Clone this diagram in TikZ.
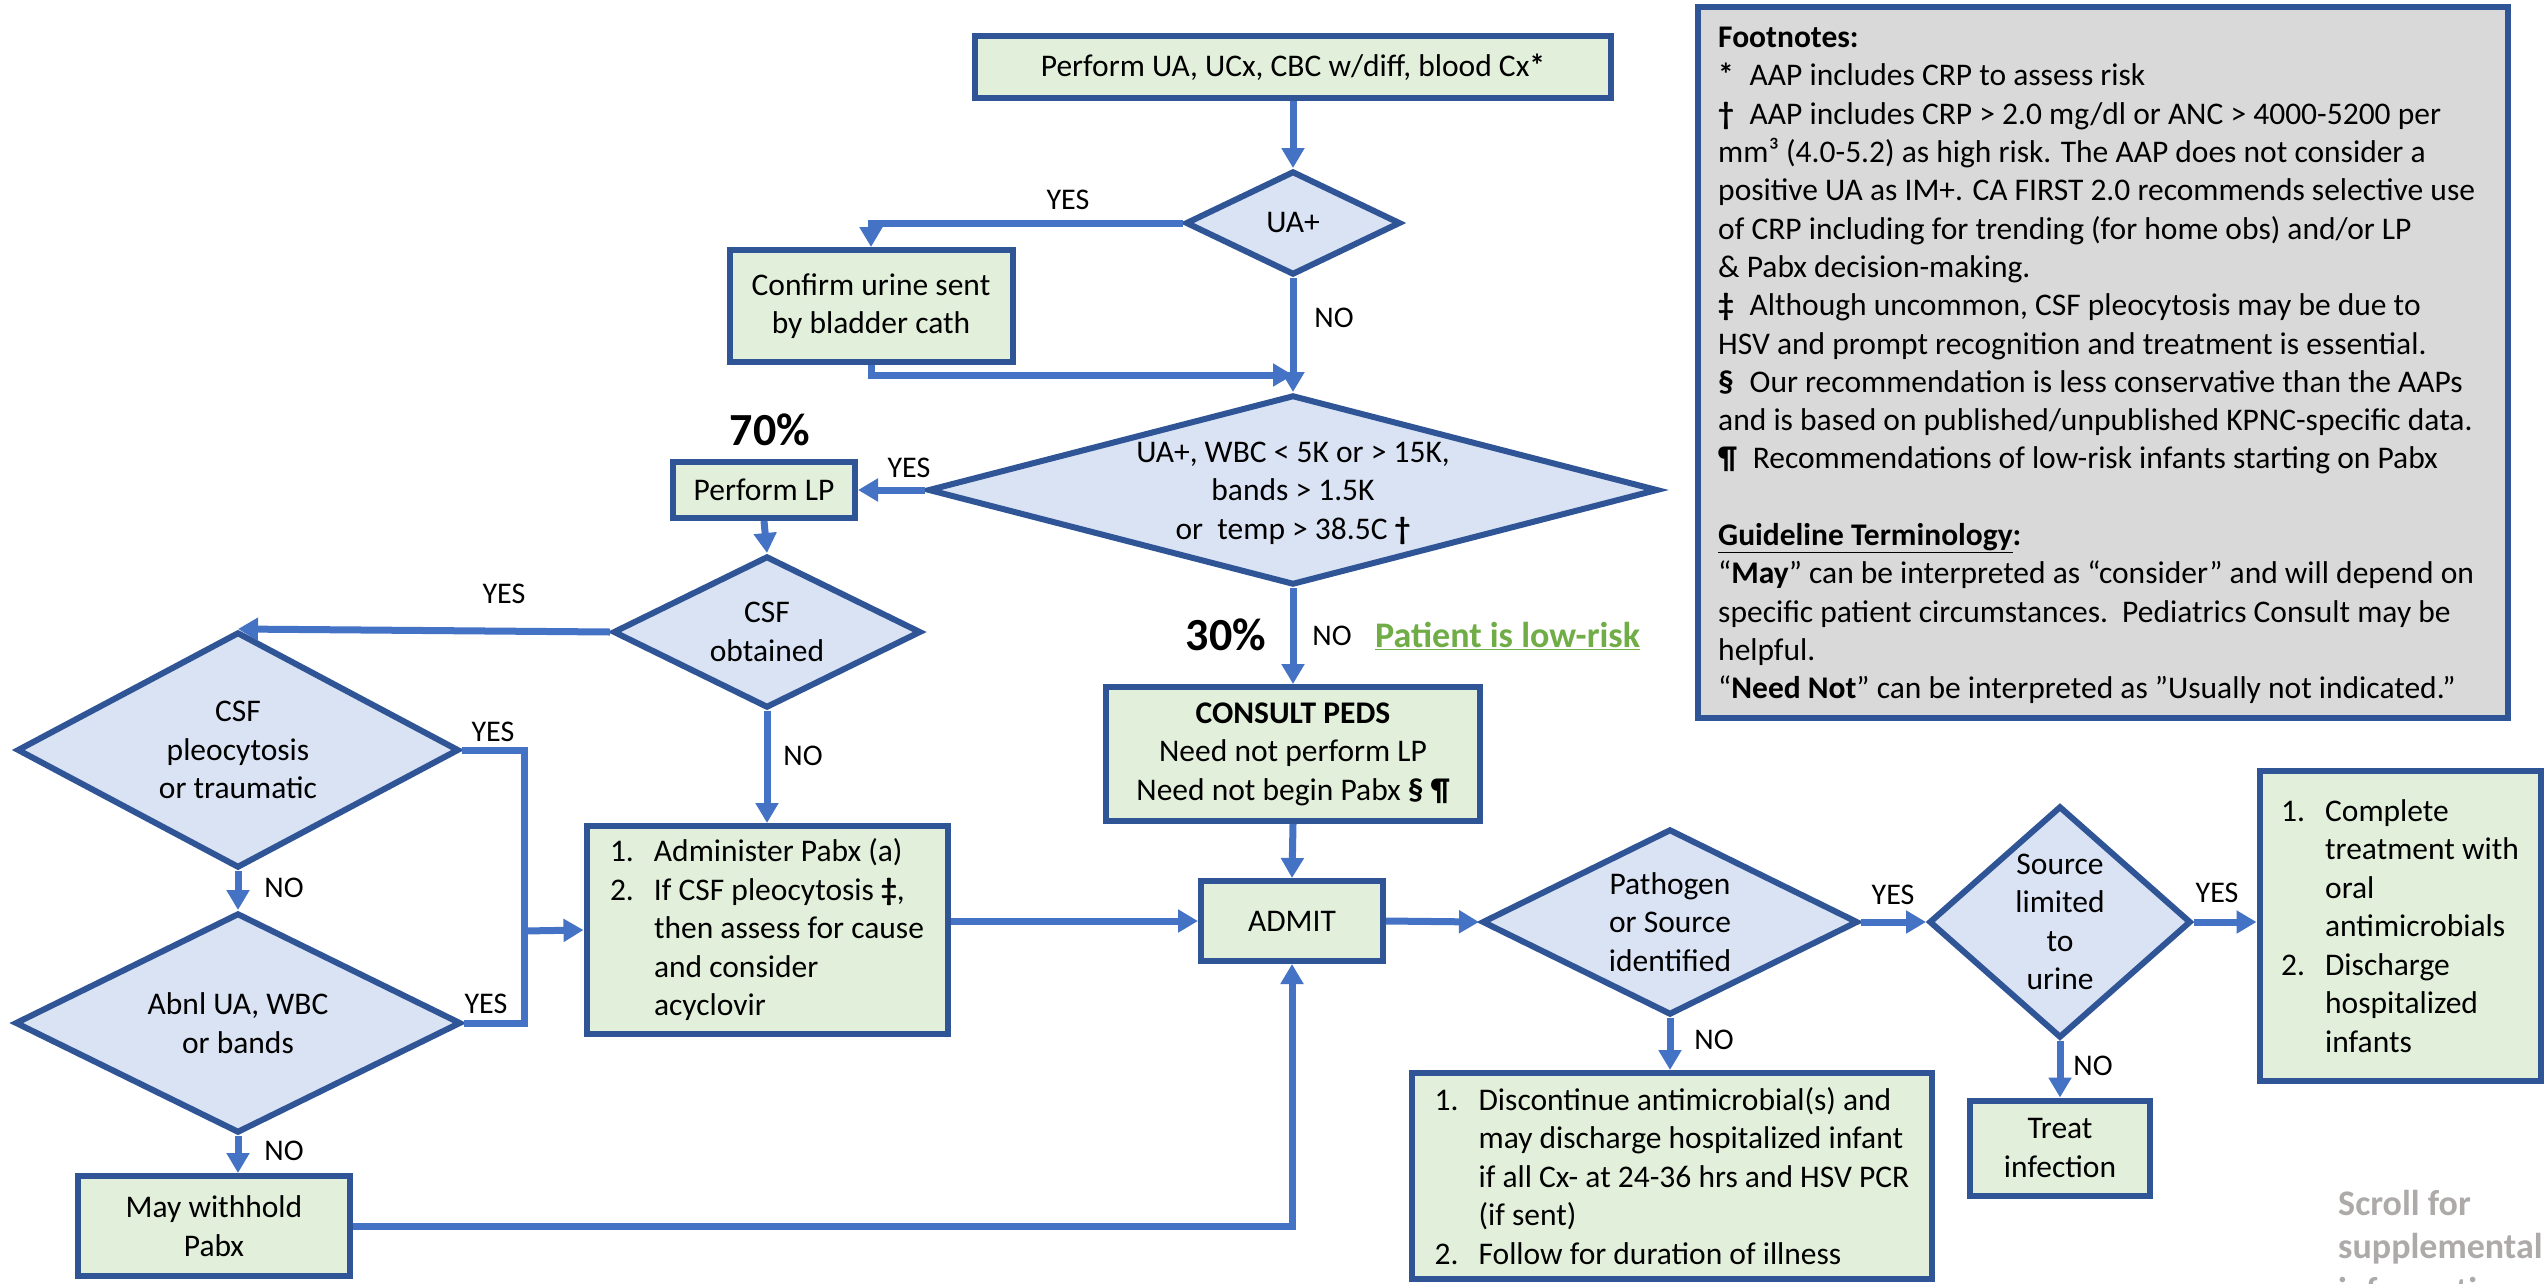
\documentclass[tikz,border=0pt]{standalone}
\usepackage{fontspec}
\setmainfont{Carlito}
\usetikzlibrary{arrows.meta,shapes.geometric}

\definecolor{edgeblue}{HTML}{2F5597}
\definecolor{flowblue}{HTML}{4472C4}
\definecolor{boxgreen}{HTML}{E2EFDA}
\definecolor{diablue}{HTML}{DAE3F3}
\definecolor{notegray}{HTML}{D9D9D9}
\definecolor{riskgreen}{HTML}{70AD47}
\definecolor{hintgray}{HTML}{AEAAAA}

% hanging number for list-style boxes
\newcommand\itm[1]{\makebox[44pt][l]{#1}}

\tikzset{
  txt/.style={font=\fontsize{31.5}{38.5}\selectfont, align=center, inner sep=0pt},
  stepbox/.style={txt, rectangle, draw=edgeblue, fill=boxgreen, line width=6pt},
  listbox/.style={stepbox, align=left},
  dia/.style={diamond, draw=edgeblue, fill=diablue, line width=6pt, inner sep=0pt},
  lbl/.style={font=\fontsize{30}{36}\selectfont, inner sep=0pt},
  pct/.style={font=\fontsize{46}{50}\selectfont\bfseries, inner sep=0pt},
  conn/.style={draw=flowblue, line width=7pt},
  arr/.style={conn, -{Triangle[length=20pt,width=22pt]}},
}

\begin{document}
\begin{tikzpicture}[x=1pt,y=-1pt]
\useasboundingbox (0,0) rectangle (2544,1283);
\clip (0,0) rectangle (2544,1283);
\fill[white] (0,0) rectangle (2544,1283);

% ---------- footnotes panel ----------
\node[draw=edgeblue, fill=notegray, line width=6pt, minimum width=810pt, minimum height=711pt, inner sep=0pt] (notes) at (2103,362.5) {};
\node[anchor=north west, align=left, inner sep=0pt, font=\fontsize{31.5}{38.3}\selectfont] (notes-t) at (1718,27) {%
\textbf{Footnotes:}\\
\textbf{*}\enspace AAP includes CRP to assess risk\\
\textbf{†}\enspace AAP includes CRP > 2.0 mg/dl or ANC > 4000-5200 per\\
mm³ (4.0-5.2) as high risk. The AAP does not consider a\\
positive UA as IM+. CA FIRST 2.0 recommends selective use\\
of CRP including for trending (for home obs) and/or LP\\
\& Pabx decision-making.\\
\textbf{‡}\enspace Although uncommon, CSF pleocytosis may be due to\\
HSV and prompt recognition and treatment is essential.\\
\textbf{§}\enspace Our recommendation is less conservative than the AAPs\\
and is based on published/unpublished KPNC-specific data.\\
\textbf{¶}\enspace Recommendations of low-risk infants starting on Pabx\\[38.3pt]
\underline{\textbf{Guideline Terminology}}\textbf{:}\\
“\textbf{May}” can be interpreted as “consider” and will depend on\\
specific patient circumstances.\ \ Pediatrics Consult may be\\
helpful.\\
“\textbf{Need Not}” can be interpreted as ”Usually not indicated.”};

% ---------- flow nodes ----------
\node[stepbox, minimum width=636pt, minimum height=62pt] (top) at (1293,67) {Perform UA, UCx, CBC w/diff, blood Cx\textbf{*}};

\node[dia, minimum width=215pt, minimum height=104pt] (uap) at (1293,223) {};
\node[txt] (uap-t) at (uap) {UA+};

\node[stepbox, minimum width=283pt, minimum height=112pt] (confirm) at (871,306) {Confirm urine sent\\by bladder cath};

\node[dia, minimum width=730pt, minimum height=190pt] (risk) at (1293,490) {};
\node[txt] (risk-t) at (1293,493) {UA+, WBC < 5K or > 15K,\\bands > 1.5K\\or\ \ temp > 38.5C \textbf{†}};

\node[stepbox, minimum width=182pt, minimum height=56pt] (lp) at (764,490) {Perform LP};
\node[pct] (p70) at (770,430) {70\%};

\node[dia, minimum width=308pt, minimum height=152pt] (csfob) at (767,632) {};
\node[txt] (csfob-t) at (csfob) {CSF\\obtained};

\node[dia, minimum width=442pt, minimum height=236pt] (pleo) at (238,750) {};
\node[txt] (pleo-t) at (pleo) {CSF\\pleocytosis\\or traumatic};

\node[dia, minimum width=446pt, minimum height=220pt] (abnl) at (238,1023) {};
\node[txt] (abnl-t) at (abnl) {Abnl UA, WBC\\or bands};

\node[stepbox, minimum width=272pt, minimum height=100pt] (withhold) at (214,1226) {May withhold\\Pabx};

\node[listbox, minimum width=361pt, minimum height=208pt] (admin) at (767,930) {%
\itm{1.}Administer Pabx (a)\\
\itm{2.}If CSF pleocytosis \textbf{‡},\\
\itm{}then assess for cause\\
\itm{}and consider\\
\itm{}acyclovir};

\node[stepbox, minimum width=374pt, minimum height=134pt] (consult) at (1293,754) {\textbf{CONSULT PEDS}\\Need not perform LP\\Need not begin Pabx \textbf{§ ¶}};
\node[pct] (p30) at (1226,635) {30\%};
\node[anchor=west, inner sep=0pt, font=\fontsize{36}{40}\selectfont\bfseries, text=riskgreen] (lowrisk) at (1375,636) {\underline{Patient is low-risk}};

\node[stepbox, minimum width=182pt, minimum height=80pt] (admit) at (1292,921) {ADMIT};

\node[dia, minimum width=376pt, minimum height=186pt] (path) at (1670,922) {};
\node[txt] (path-t) at (path) {Pathogen\\or Source\\identified};

\node[dia, minimum width=262pt, minimum height=232pt] (src) at (2060,922) {};
\node[txt] (src-t) at (src) {Source\\limited\\to\\urine};

\node[listbox, minimum width=281pt, minimum height=310pt] (complete) at (2400,926) {%
\itm{1.}Complete\\
\itm{}treatment with\\
\itm{}oral\\
\itm{}antimicrobials\\
\itm{2.}Discharge\\
\itm{}hospitalized\\
\itm{}infants};

\node[listbox, minimum width=520pt, minimum height=206pt] (disc) at (1672,1176) {%
\itm{1.}Discontinue antimicrobial(s) and\\
\itm{}may discharge hospitalized infant\\
\itm{}if all Cx- at 24-36 hrs and HSV PCR\\
\itm{}(if sent)\\
\itm{2.}Follow for duration of illness};

\node[stepbox, minimum width=180pt, minimum height=95pt] (treat) at (2060,1148) {Treat\\infection};

\node[anchor=north west, align=left, inner sep=0pt, font=\fontsize{36}{43.5}\selectfont\bfseries, text=hintgray] (scroll) at (2338,1190) {Scroll for\\supplemental\\information};

% ---------- connectors ----------
\coordinate (merge) at (1293,375);
\coordinate (join) at (524,931);

\draw[arr] (top) -- (uap);
\draw[arr] (uap.west) -| (confirm.north);
\draw[arr] (uap.south) -- (risk.north);
\draw[arr] (confirm.south) |- (merge);
\draw[arr] (risk.west) -- (lp.east);
\draw[arr] (lp.south) -- (csfob.north);
\draw[arr] (csfob.west) -- (pleo.north);
\draw[arr] (csfob.south) -- (admin.north);
\draw[arr] (pleo.south) -- (abnl.north);
\draw[arr] (abnl.south) -- (abnl.south |- withhold.north);
\draw[conn] (pleo.east) -| (join) |- (abnl.east);
\draw[arr] (join) -- (admin.west);
\draw[arr] (admin.east |- admit.west) -- (admit.west);
\draw[arr] (withhold.east) -| (admit.south);
\draw[arr] (risk.south) -- (consult.north);
\draw[arr] (consult.south) -- (admit.north);
\draw[arr] (admit.east) -- (path.west);
\draw[arr] (path.east) -- (src.west);
\draw[arr] (src.east) -- (src.east -| complete.west);
\draw[arr] (path.south) -- (path.south |- disc.north);
\draw[arr] (src.south) -- (treat.north);

% ---------- branch labels ----------
\node[lbl] (l-uap-y) at (1068,200) {YES};
\node[lbl] (l-uap-n) at (1334,318) {NO};
\node[lbl] (l-risk-y) at (909,468) {YES};
\node[lbl] (l-risk-n) at (1332,636) {NO};
\node[lbl] (l-csf-y) at (504,594) {YES};
\node[lbl] (l-csf-n) at (803,756) {NO};
\node[lbl] (l-pleo-y) at (493,732) {YES};
\node[lbl] (l-pleo-n) at (284,888) {NO};
\node[lbl] (l-abnl-y) at (486,1004) {YES};
\node[lbl] (l-abnl-n) at (284,1151) {NO};
\node[lbl] (l-path-y) at (1893,895) {YES};
\node[lbl] (l-path-n) at (1714,1040) {NO};
\node[lbl] (l-src-y) at (2217,893) {YES};
\node[lbl] (l-src-n) at (2093,1066) {NO};
\end{tikzpicture}
\end{document}
